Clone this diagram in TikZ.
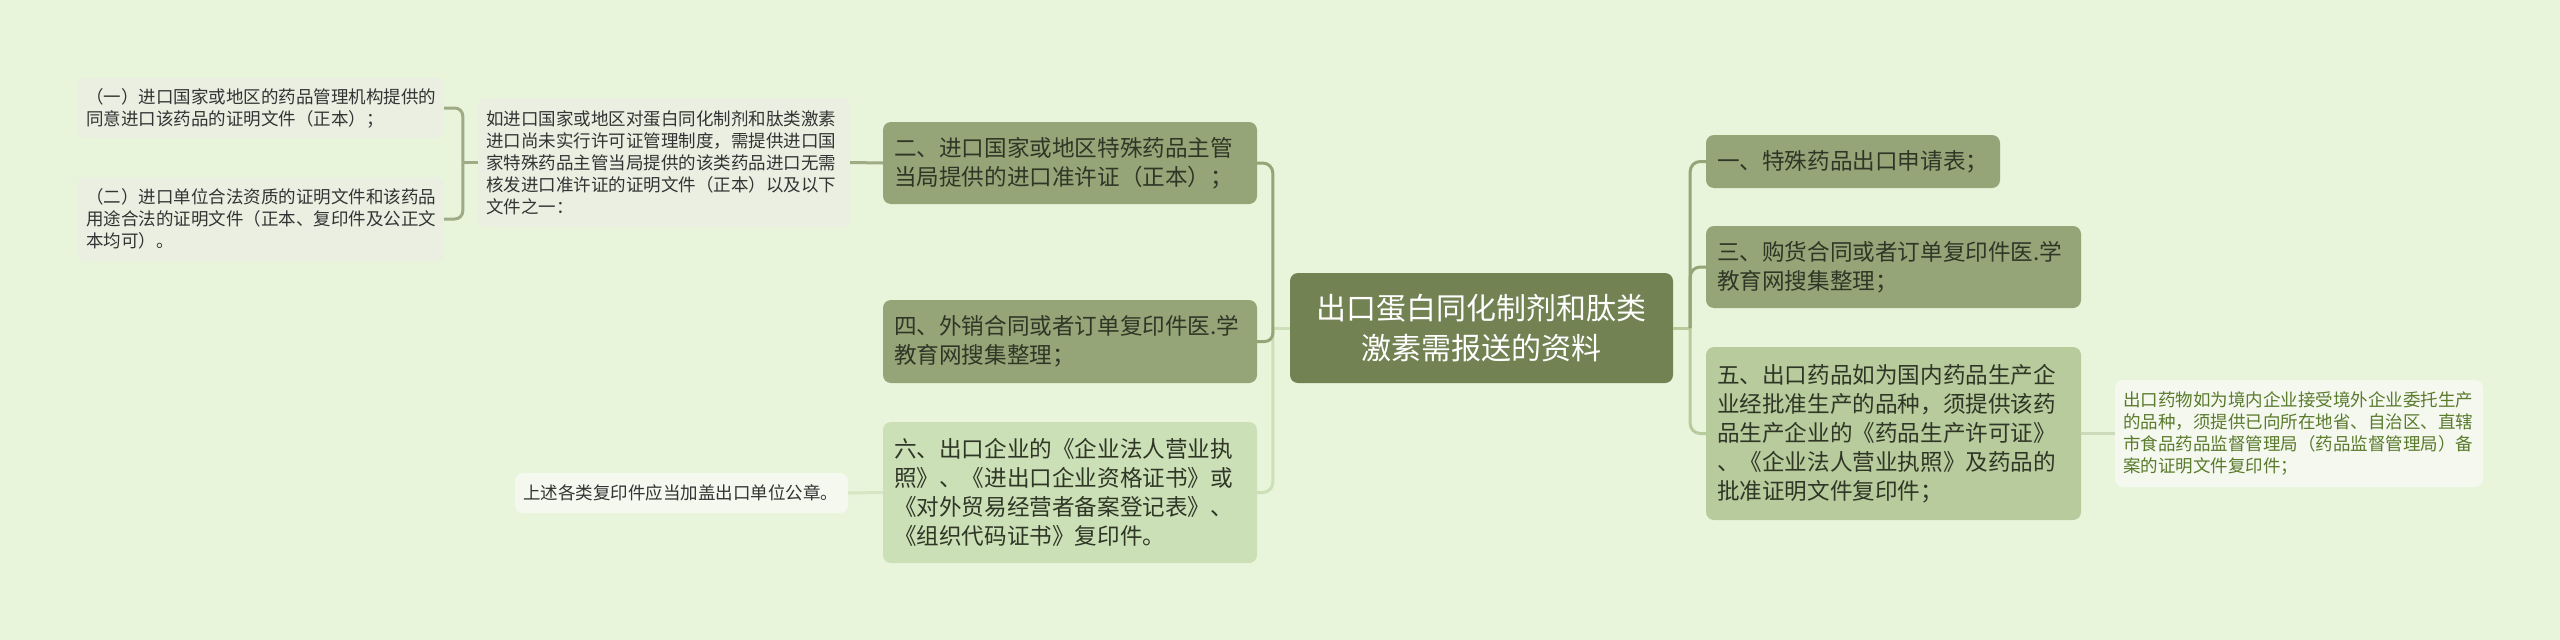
\documentclass[tikz,border=0pt]{standalone}
\usepackage{fontspec}
\newfontfamily\cjk{Noto Sans CJK SC}
\definecolor{bgcol}{HTML}{E8F5DB}
\definecolor{maincol}{HTML}{738253}
\definecolor{lvonecol}{HTML}{95A578}
\definecolor{sixcol}{HTML}{CCE0B7}
\definecolor{fivecol}{HTML}{B8CB9C}
\definecolor{notecol}{HTML}{EBEFE2}
\definecolor{leafcol}{HTML}{F4F8EF}
\definecolor{subcol}{HTML}{9EAB85}
\definecolor{darktext}{HTML}{2F3626}
\definecolor{greytext}{HTML}{333333}
\definecolor{leaftext}{HTML}{5A7A2C}
\begin{document}
\begin{tikzpicture}[x=1pt,y=-1pt,
  topic/.style={rounded corners=8pt,fill=maincol,text=white,align=center,inner xsep=10pt,inner ysep=0pt,
    font=\cjk\fontsize{30}{40}\selectfont},
  lvone/.style={rounded corners=8pt,fill=lvonecol,text=darktext,align=left,inner xsep=11pt,inner ysep=0pt,
    font=\cjk\fontsize{22.6}{29}\selectfont},
  note/.style={rounded corners=8pt,fill=notecol,text=greytext,align=left,inner xsep=8pt,inner ysep=0pt,
    font=\cjk\fontsize{17.5}{22}\selectfont},
  lvline/.style={draw=lvonecol,line width=3pt},
  sixline/.style={draw=sixcol,line width=3pt},
  fiveline/.style={draw=fivecol,line width=3pt},
  subline/.style={draw=subcol,line width=3pt}]
\fill[bgcol] (0,0) rectangle (2560,640);
\useasboundingbox (0,0) rectangle (2560,640);
% centre
\node[topic,text width=363,minimum height=110] (main) at (1481.5,328) {出口蛋白同化制剂和肽类\\激素需报送的资料};
% left branch
\node[lvone,text width=352,minimum height=82] (c2) at (1070,163) {二、进口国家或地区特殊药品主管\\当局提供的进口准许证（正本）；};
\node[lvone,text width=352,minimum height=83] (c4) at (1070,341.5) {四、外销合同或者订单复印件医.学\\教育网搜集整理；};
\node[lvone,fill=sixcol,text width=352,minimum height=141] (c6) at (1070,492.5) {六、出口企业的《企业法人营业执\\照》、《进出口企业资格证书》或\\《对外贸易经营者备案登记表》、\\《组织代码证书》复印件。};
\node[note,text width=356,minimum height=129] (b) at (664,162.5) {如进口国家或地区对蛋白同化制剂和肽类激素\\进口尚未实行许可证管理制度，需提供进口国\\家特殊药品主管当局提供的该类药品进口无需\\核发进口准许证的证明文件（正本）以及以下\\文件之一：};
\node[note,text width=350,minimum height=60] (a1) at (261,108) {（一）进口国家或地区的药品管理机构提供的\\同意进口该药品的证明文件（正本）；};
\node[note,text width=350,minimum height=84] (a2) at (261,219) {（二）进口单位合法资质的证明文件和该药品\\用途合法的证明文件（正本、复印件及公正文\\本均可）。};
\node[note,fill=leafcol,text width=317,minimum height=40] (f) at (681.5,493) {上述各类复印件应当加盖出口单位公章。};
% right branch
\node[lvone,text width=272,minimum height=53] (d1) at (1853,161.5) {一、特殊药品出口申请表；};
\node[lvone,text width=353,minimum height=82] (d3) at (1893.5,267) {三、购货合同或者订单复印件医.学\\教育网搜集整理；};
\node[lvone,fill=fivecol,text width=353,minimum height=173] (d5) at (1893.5,433.5) {五、出口药品如为国内药品生产企\\业经批准生产的品种，须提供该药\\品生产企业的《药品生产许可证》\\、《企业法人营业执照》及药品的\\批准证明文件复印件；};
\node[note,fill=leafcol,text=leaftext,text width=352,minimum height=107] (e) at (2299,433.5) {出口药物如为境内企业接受境外企业委托生产\\的品种，须提供已向所在地省、自治区、直辖\\市食品药品监督管理局（药品监督管理局）备\\案的证明文件复印件；};
% connectors
\coordinate (jl) at ([xshift=-17pt]main.west);
\coordinate (jr) at ([xshift=17pt]main.east);
\draw[sixline] (main.west) -- (jl);
\draw[sixline,rounded corners=10pt] (jl) |- (c6.east);
\draw[lvline,rounded corners=8pt] (jl) |- (c4.east);
\draw[lvline,rounded corners=10pt] (jl) |- (c2.east);
\draw[fiveline] (main.east) -- (jr);
\draw[fiveline,rounded corners=10pt] (jr) |- (d5.west);
\draw[lvline,rounded corners=10pt] (jr) |- (d3.west);
\draw[lvline,rounded corners=10pt] (jr) |- (d1.west);
\coordinate (jb) at ([xshift=-15pt]b.west);
\draw[subline,rounded corners=8pt] (a1.east) -| (jb);
\draw[subline,rounded corners=8pt] (a2.east) -| (jb);
\draw[subline] (jb) -- (b.west);
\draw[subline] (b.east) -- (c2.west);
\draw[sixline,draw=sixcol!80!white] (c6.west) -- (f.east);
\draw[fiveline,draw=fivecol!70!white] (d5.east) -- (e.west);
\end{tikzpicture}
\end{document}
